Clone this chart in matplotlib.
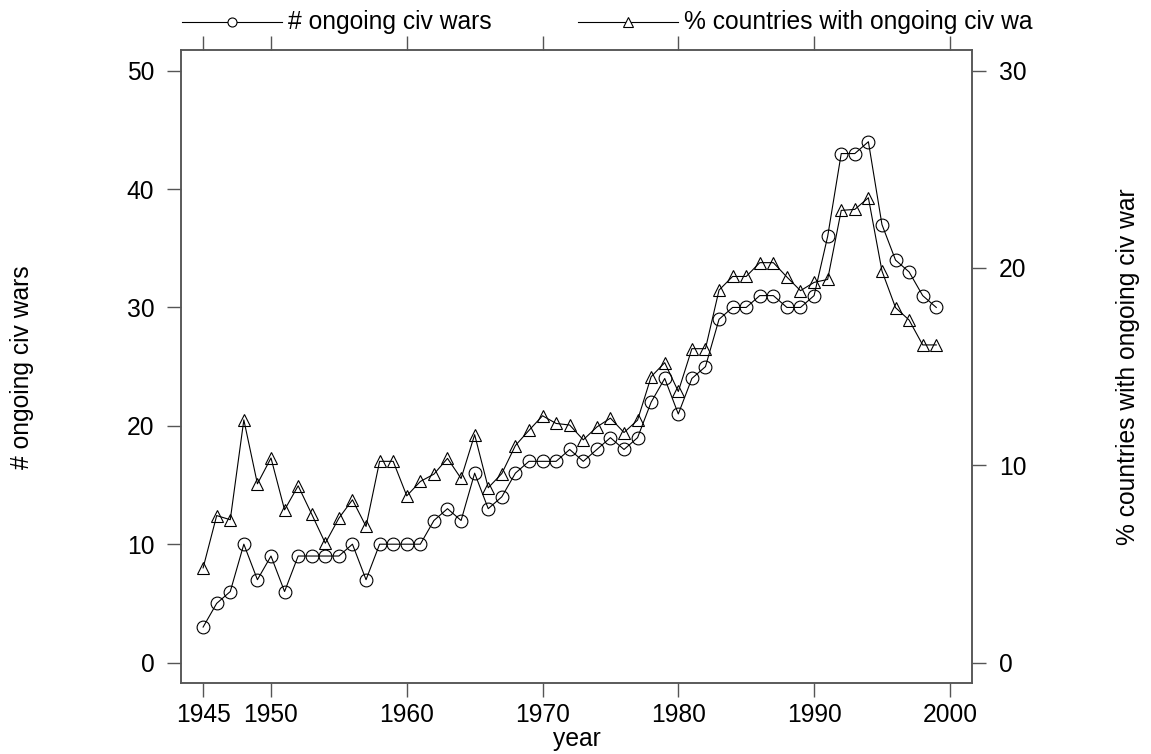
import matplotlib
matplotlib.use("Agg")
from matplotlib import pyplot as plt
from matplotlib.lines import Line2D

plt.rcParams['font.family'] = ['Liberation Sans', 'DejaVu Sans']

years = list(range(1945, 2000))
n_wars = [3, 5, 6, 10, 7, 9, 6, 9, 9, 9,
          9, 10, 7, 10, 10, 10, 10, 12, 13, 12,
          16, 13, 14, 16, 17, 17, 17, 18, 17, 18,
          19, 18, 19, 22, 24, 21, 24, 25, 29, 30,
          30, 31, 31, 30, 30, 31, 36, 43, 43, 44,
          37, 34, 33, 31, 30]
pct_wars = [4.8, 7.45, 7.24, 12.3, 9.06, 10.37, 7.74, 8.96, 7.52, 6.05,
            7.32, 8.25, 6.9, 10.2, 10.2, 8.45, 9.18, 9.55, 10.35, 9.33,
            11.55, 8.86, 9.58, 11.0, 11.77, 12.51, 12.12, 12.04, 11.29, 11.94,
            12.39, 11.66, 12.29, 14.49, 15.2, 13.74, 15.91, 15.91, 18.88, 19.57,
            19.57, 20.27, 20.27, 19.54, 18.85, 19.27, 19.42, 22.92, 22.97, 23.56,
            19.85, 17.99, 17.36, 16.1, 16.1]
xticks = [1945, 1950, 1960, 1970, 1980, 1990, 2000]
label1 = "# ongoing civ wars"
label2 = "% countries with ongoing civ war"
legend2 = "% countries with ongoing civ wa"   # cut off in the original

fs = 17.7
frame_col = "#555555"

fig = plt.figure(figsize=(11.51, 7.54), dpi=100)
ax = fig.add_axes([0.157, 0.0938, 0.6877, 0.8399])
ax2 = ax.twinx()

ax.plot(years, n_wars, color="black", lw=0.8, marker="o", ms=9.2,
        mfc="none", mec="black", mew=0.8)
ax2.plot(years, pct_wars, color="black", lw=0.8, marker="^", ms=8.8,
         mfc="none", mec="black", mew=0.8)

ax.set_xlim(1943.35, 2001.65)
ax.set_ylim(-1.75, 51.75)
ax2.set_ylim(-1.05, 31.05)
ax.set_xticks(xticks)
ax.set_yticks([0, 10, 20, 30, 40, 50])
ax2.set_yticks([0, 10, 20, 30])

for a in (ax, ax2):
    for s in a.spines.values():
        s.set_color(frame_col)
        s.set_linewidth(1.1)
ax.tick_params(axis="x", top=True, bottom=True, labeltop=False, direction="out",
               length=10, width=1, color=frame_col, labelsize=fs, pad=4)
ax.tick_params(axis="y", direction="out", length=10, width=1, color=frame_col,
               labelsize=fs, pad=9)
ax2.tick_params(axis="y", direction="out", length=10, width=1, color=frame_col,
                labelsize=fs, pad=9)

ax.set_xlabel("year", fontsize=fs, labelpad=0)
fig.text(22 / 1151, 1 - 367 / 754, label1, rotation=90, fontsize=fs,
         ha="center", va="center")
fig.text(1128 / 1151, 1 - 367 / 754, label2, rotation=90, fontsize=fs,
         ha="center", va="center")

# legend above the plot
ly = 1 - 22 / 754
entries = [(182, "o", label1), (578, "^", legend2)]
for x0, mk, lab in entries:
    fx0, fx1 = x0 / 1151, (x0 + 100) / 1151
    fig.add_artist(Line2D([fx0, fx1], [ly, ly], transform=fig.transFigure,
                          color="black", lw=0.8))
    fig.add_artist(Line2D([(fx0 + fx1) / 2], [ly], transform=fig.transFigure,
                          marker=mk, ms=6.5, mfc="white", mec="black", mew=0.8,
                          lw=0))
    fig.text(fx1 + 6 / 1151, ly, lab, fontsize=fs, ha="left", va="center")

fig.savefig("out.png", dpi=100)
